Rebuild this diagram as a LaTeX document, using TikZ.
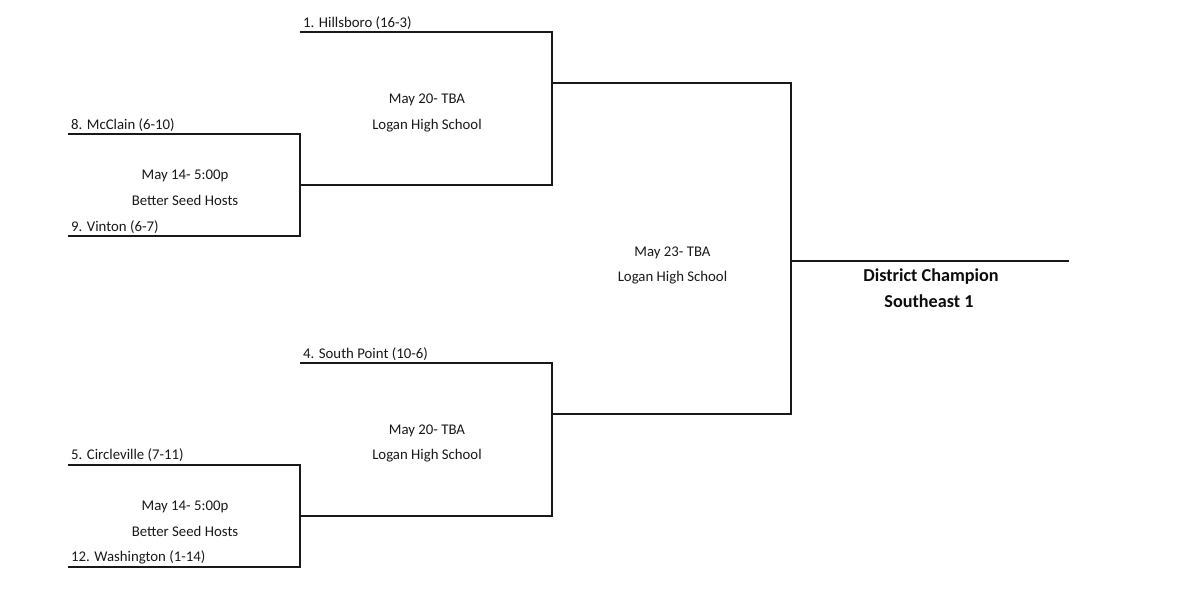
\documentclass[tikz,border=0pt]{standalone}
\usepackage{fontspec}
\setmainfont{Carlito}
\tikzset{
  px/.style={x=1pt,y=-1pt},
  wire/.style={draw=black!90,line width=2.1pt,line cap=rect,line join=miter},
  thinwire/.style={draw=black!90,line width=2pt,line cap=butt},
  lbl/.style={font=\fontsize{14.8}{17}\selectfont,inner sep=0pt,anchor=base west,text=black!90},
  ctr/.style={font=\fontsize{14.8}{17}\selectfont,inner sep=0pt,anchor=base,text=black!90},
  champ/.style={font=\fontsize{18.2}{21}\selectfont\bfseries,inner sep=0pt,anchor=base,text=black!95},
}
\begin{document}
\begin{tikzpicture}[px]
\useasboundingbox (0,0) rectangle (1200,601);
\fill[white] (0,0) rectangle (1200,601);
\coordinate (h) at (301,32); \coordinate (hc) at (552,32);
\coordinate (m) at (69,134); \coordinate (mc) at (300,134);
\coordinate (v) at (69,236); \coordinate (vc) at (300,236);
\coordinate (mv) at (552,185);
\coordinate (s) at (301,363); \coordinate (sc) at (552,363);
\coordinate (c) at (69,465); \coordinate (cc) at (300,465);
\coordinate (w) at (69,567); \coordinate (wc) at (300,567);
\coordinate (cw) at (552,516);
\coordinate (t) at (552,83); \coordinate (tc) at (791,83);
\coordinate (b) at (552,414); \coordinate (bc) at (791,414);
\coordinate (f) at (791,261); \coordinate (fe) at (1069,261);
\draw[wire] (h) -- (hc) -- (mv) -- (mv-|mc);
\draw[wire] (m) -- (mc) -- (vc) -- (v);
\draw[wire] (s) -- (sc) -- (cw) -- (cw-|cc);
\draw[wire] (c) -- (cc) -- (wc) -- (w);
\draw[wire] (t) -- (tc) -- (bc) -- (b);
\draw[thinwire] (f) -- (fe);
\node[lbl] (n1) at (303,27.5) {1. Hillsboro (16-3)};
\node[lbl] (n8) at (71,129.5) {8. McClain (6-10)};
\node[lbl] (n9) at (71,231.5) {9. Vinton (6-7)};
\node[lbl] (n4) at (303,358.5) {4. South Point (10-6)};
\node[lbl] (n5) at (71,460) {5. Circleville (7-11)};
\node[lbl] (n12) at (71,561.5) {12. Washington (1-14)};
\node[ctr] (g1a) at (427,103.5) {May 20- TBA};
\node[ctr] (g1b) at (427,129.5) {Logan High School};
\node[ctr] (g2a) at (185,179.5) {May 14- 5:00p};
\node[ctr] (g2b) at (185,205.5) {Better Seed Hosts};
\node[ctr] (g3a) at (672.5,256.5) {May 23- TBA};
\node[ctr] (g3b) at (672.5,282) {Logan High School};
\node[ctr] (g4a) at (427,434.5) {May 20- TBA};
\node[ctr] (g4b) at (427,460) {Logan High School};
\node[ctr] (g5a) at (185,510.5) {May 14- 5:00p};
\node[ctr] (g5b) at (185,536.5) {Better Seed Hosts};
\node[champ] (d1) at (931,282) {District Champion};
\node[champ] (d2) at (929,308) {Southeast 1};
\end{tikzpicture}
\end{document}
